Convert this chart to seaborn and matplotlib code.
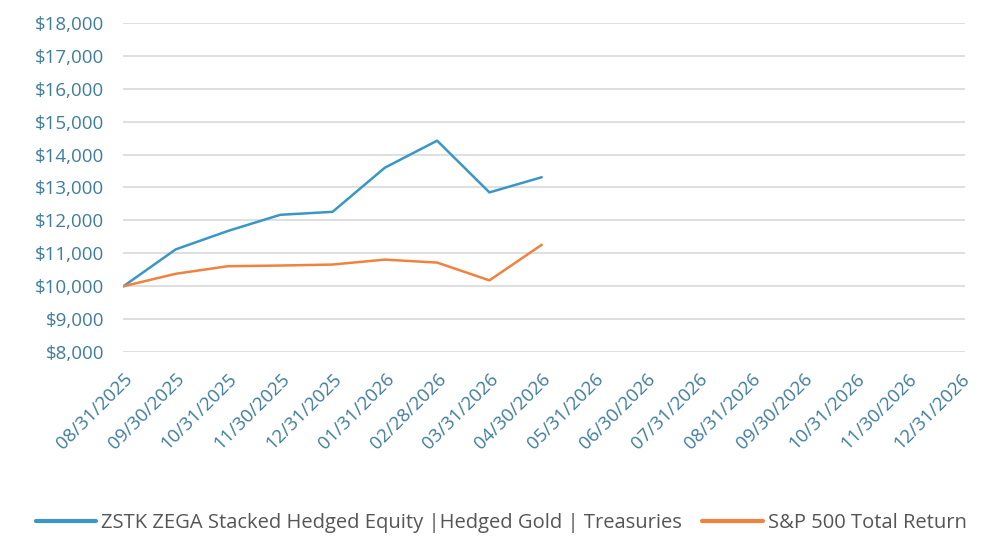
import pandas as pd
import numpy as np
import seaborn as sns
import matplotlib.pyplot as plt

dates = ['08/31/2025', '09/30/2025', '10/31/2025', '11/30/2025', '12/31/2025',
         '01/31/2026', '02/28/2026', '03/31/2026', '04/30/2026', '05/31/2026',
         '06/30/2026', '07/31/2026', '08/31/2026', '09/30/2026', '10/31/2026',
         '11/30/2026', '12/31/2026']

zstk_name = 'ZSTK ZEGA Stacked Hedged Equity |Hedged Gold | Treasuries'
spx_name = 'S&P 500 Total Return'

zstk = [10000, 11120, 11680, 12170, 12260, 13600, 14420, 12850, 13310]
spx = [10000, 10380, 10610, 10630, 10660, 10810, 10720, 10180, 11260]

yticks = [8000, 9000, 10000, 11000, 12000, 13000, 14000, 15000, 16000, 17000, 18000]

df = pd.DataFrame({
    'idx': list(range(len(zstk))) * 2,
    'value': zstk + spx,
    'series': [zstk_name] * len(zstk) + [spx_name] * len(spx),
})

sns.set_style('white')
plt.rcParams['font.family'] = ['Open Sans', 'DejaVu Sans']

label_color = '#3f7d9c'
blue = '#3a97c5'
orange = '#f0823e'

fig = plt.figure(figsize=(9.87, 5.41), dpi=100)
ax = fig.add_axes([0.125, 0.349, 0.853, 0.609])

sns.lineplot(data=df, x='idx', y='value', hue='series',
             palette={zstk_name: blue, spx_name: orange},
             linewidth=1.8, ax=ax, legend=False)

ax.set_ylim(8000, 18000)
ax.set_xlim(0, 16.1)
ax.set_yticks(yticks)
ax.set_yticklabels([f'${v:,}' for v in yticks], color=label_color, fontsize=13.5)
ax.set_xticks(range(len(dates)))
ax.set_xticklabels(dates, rotation=45, ha='right', rotation_mode='anchor',
                   color=label_color, fontsize=13.5)
ax.tick_params(axis='y', length=0, pad=14)
ax.tick_params(axis='x', length=0, pad=13)
ax.yaxis.grid(True, color='#d9d9d9', linewidth=1.2)
ax.xaxis.grid(False)
for s in ax.spines.values():
    s.set_visible(False)
ax.set_xlabel('')
ax.set_ylabel('')

handles = [plt.Line2D([], [], color=blue, linewidth=3),
           plt.Line2D([], [], color=orange, linewidth=3)]
fig.legend(handles, [zstk_name, spx_name], loc='center', bbox_to_anchor=(0.508, 0.033),
           ncol=2, frameon=False, fontsize=14.5, handlelength=3.0, handletextpad=0.25,
           columnspacing=1.0, labelcolor='#555555')

fig.savefig('out.png', dpi=100)
